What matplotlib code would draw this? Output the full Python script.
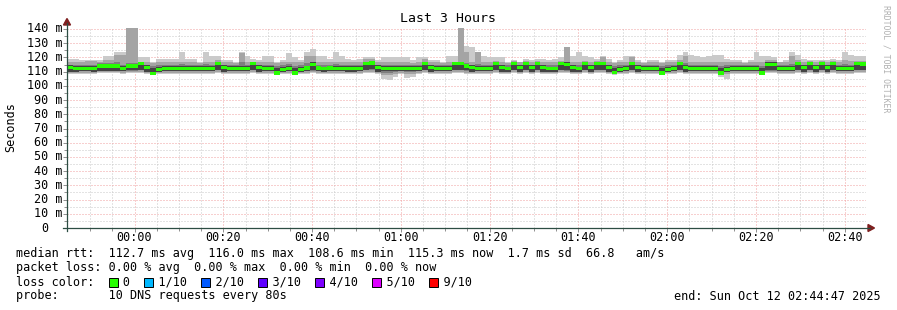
import numpy as np
import matplotlib
matplotlib.use("Agg")
import matplotlib.pyplot as plt
from matplotlib.lines import Line2D
from matplotlib.patches import Polygon, Rectangle

W, H, DPI = 897, 310, 100

# 3 hours ending 02:44:47, x in minutes from 00:00, one step = 80 s
t_start = -(15 + 13 / 60)
step_min = 80 / 60

# median rtt per step (ms)
median = [
    113.0, 112.3, 112.3, 112.3, 112.3, 114.0, 114.0, 114.0, 114.0, 112.3,
    114.0, 114.0, 115.5, 113.0, 108.6, 111.5, 112.3, 112.3, 112.3, 112.3,
    112.3, 112.3, 112.3, 112.3, 112.3, 115.5, 113.0, 112.3, 112.3, 112.3,
    112.3, 115.5, 113.0, 112.3, 112.3, 109.0, 111.4, 112.3, 109.0, 111.5,
    112.5, 115.0, 112.5, 112.0, 112.5, 112.3, 112.3, 112.3, 112.3, 112.3,
    115.5, 116.0, 113.0, 112.3, 112.3, 112.3, 112.3, 112.3, 112.3, 112.3,
    115.5, 113.0, 112.3, 112.3, 112.3, 115.5, 115.5, 114.0, 113.0, 112.3,
    112.3, 112.3, 115.5, 113.0, 112.0, 115.5, 113.0, 115.5, 113.0, 115.5,
    113.0, 112.0, 112.0, 115.5, 115.0, 113.0, 112.0, 115.5, 113.0, 115.5,
    115.5, 113.0, 109.2, 111.5, 112.3, 115.5, 113.0, 112.3, 112.3, 112.3,
    109.0, 111.5, 112.3, 115.5, 113.0, 112.3, 112.3, 112.3, 112.3, 112.3,
    109.0, 111.5, 112.3, 112.3, 112.3, 112.3, 112.3, 109.0, 115.0, 115.0,
    112.3, 112.3, 112.3, 115.5, 113.0, 115.5, 113.0, 115.5, 113.0, 115.5,
    112.3, 112.3, 112.3, 115.5, 115.3,
]

# sorted pings: lowest / highest (lightest smoke)
ping_min = [
    108.5, 108.3, 108.5, 108.5, 108.3, 109.0, 109.0, 108.8, 108.8, 108.5,
    108.8, 109.0, 109.0, 108.5, 107.5, 108.3, 108.5, 108.5, 108.5, 108.5,
    108.5, 108.5, 108.5, 108.5, 108.5, 109.0, 108.5, 108.5, 108.5, 108.5,
    108.5, 109.0, 108.5, 108.5, 108.5, 107.6, 108.3, 108.5, 107.6, 108.0,
    108.5, 109.0, 108.5, 108.5, 108.5, 108.5, 108.5, 108.5, 108.5, 108.5,
    109.0, 109.0, 108.0, 104.5, 104.0, 106.5, 108.5, 105.5, 106.0, 108.5,
    109.0, 108.5, 108.5, 108.5, 108.5, 109.0, 109.0, 108.5, 108.5, 108.5,
    108.5, 108.5, 109.0, 108.5, 108.0, 109.0, 108.5, 109.0, 108.5, 109.0,
    108.5, 108.5, 108.5, 109.0, 109.0, 108.5, 108.5, 109.0, 108.5, 109.0,
    109.0, 108.5, 107.8, 108.3, 108.5, 109.0, 108.5, 108.5, 108.5, 108.5,
    107.6, 108.3, 108.5, 109.0, 108.5, 108.5, 108.5, 108.5, 108.5, 108.5,
    106.5, 105.0, 108.5, 108.5, 108.5, 108.5, 108.5, 107.6, 109.0, 109.0,
    108.5, 108.5, 108.5, 109.0, 108.5, 109.0, 108.5, 109.0, 108.5, 109.0,
    108.5, 108.5, 108.5, 109.0, 109.0,
]
ping_max = [
    119, 119, 118.5, 118.5, 118.5, 118.5, 121, 121, 124, 124,
    140.7, 140.7, 120, 120, 117, 119, 119, 119, 119, 124,
    119, 119, 117, 124, 121, 121, 118, 118, 117, 124,
    121, 119, 118, 121, 121, 117, 118, 123, 120, 118,
    124, 126, 121, 121, 119, 124, 121, 119, 118, 119,
    120, 120, 118, 120, 120, 120, 120, 120, 118, 120,
    120, 118, 118, 117, 121, 121, 140.7, 128, 127, 124,
    121, 120, 120, 120, 117, 118, 117, 119, 118, 119,
    119, 118, 119, 120, 127, 121, 124, 121, 120, 119,
    121, 119, 117, 118, 121, 121, 118, 117, 118, 118,
    117, 118, 118, 122, 124, 122, 121, 120, 121, 122,
    122, 119, 118, 118, 117, 118, 124, 121, 121, 120,
    117, 118, 124, 122, 119, 118, 118, 118, 118, 119,
    118, 124, 122, 121, 121,
]
# 2nd lowest / 2nd highest
ping_2 = [
    109.3, 109.0, 109.3, 109.3, 109.0, 109.5, 109.5, 109.5, 109.5, 109.3,
    109.5, 109.5, 109.8, 109.3, 108.0, 109.0, 109.3, 109.3, 109.3, 109.3,
    109.3, 109.3, 109.3, 109.3, 109.3, 109.8, 109.3, 109.3, 109.3, 109.3,
    109.3, 109.8, 109.3, 109.3, 109.3, 108.2, 109.0, 109.3, 108.2, 108.8,
    109.3, 109.8, 109.3, 109.3, 109.3, 109.3, 109.3, 109.3, 109.3, 109.3,
    109.8, 109.8, 109.0, 107.5, 107.5, 108.5, 109.3, 108.0, 108.5, 109.3,
    109.8, 109.3, 109.3, 109.3, 109.3, 109.8, 109.8, 109.3, 109.3, 109.3,
    109.3, 109.3, 109.8, 109.3, 109.0, 109.8, 109.3, 109.8, 109.3, 109.8,
    109.3, 109.3, 109.3, 109.8, 109.8, 109.3, 109.3, 109.8, 109.3, 109.8,
    109.8, 109.3, 108.2, 109.0, 109.3, 109.8, 109.3, 109.3, 109.3, 109.3,
    108.2, 109.0, 109.3, 109.8, 109.3, 109.3, 109.3, 109.3, 109.3, 109.3,
    108.0, 108.0, 109.3, 109.3, 109.3, 109.3, 109.3, 108.2, 109.8, 109.8,
    109.3, 109.3, 109.3, 109.8, 109.3, 109.8, 109.3, 109.8, 109.3, 109.8,
    109.3, 109.3, 109.3, 109.8, 109.8,
]
ping_9 = [
    117, 117, 117, 117.5, 117.5, 117, 118, 118, 122, 122,
    140.7, 140.7, 117, 117, 116, 116.5, 116.5, 117, 117, 117,
    117, 116.5, 116, 117, 117, 118, 116.5, 116.5, 116, 123,
    117, 117, 116.5, 117, 117, 116, 116.5, 117, 116.5, 116.5,
    121, 121, 117, 117, 116.5, 117, 117, 116.5, 116.5, 116.5,
    119, 119, 116.5, 116.5, 117, 117, 116.5, 116.5, 116, 117,
    119, 116.5, 116.5, 116, 117, 117, 140.7, 124, 117, 124,
    117, 117, 117.5, 117, 116, 117.5, 116.5, 117.5, 116.5, 117.5,
    117, 116.5, 116.5, 117.5, 127, 117, 117, 117.5, 117, 117.5,
    120, 117, 116, 116.5, 117, 120, 116.5, 116, 116.5, 116.5,
    116, 116.5, 116.5, 118, 121, 117, 117, 117, 117, 117,
    117, 116.5, 116.5, 116.5, 116, 116.5, 117, 117, 118, 118,
    116.5, 116.5, 121, 118, 117, 117.5, 117, 117.5, 117, 117.5,
    117, 118, 117.5, 117.5, 117.5,
]
# 3rd lowest / 3rd highest
ping_3 = [
    110.0, 110.0, 110.2, 110.2, 110.0, 110.5, 110.5, 110.5, 110.5, 110.2,
    110.5, 110.5, 111.0, 110.2, 108.8, 109.8, 110.2, 110.2, 110.2, 110.2,
    110.2, 110.2, 110.2, 110.2, 110.2, 111.0, 110.2, 110.2, 110.2, 110.2,
    110.2, 111.0, 110.2, 110.2, 110.2, 108.8, 109.8, 110.2, 108.8, 109.8,
    110.2, 110.8, 110.2, 110.2, 110.2, 110.2, 110.2, 110.2, 110.2, 110.2,
    111.0, 111.0, 110.2, 109.0, 109.0, 109.5, 110.2, 109.5, 109.5, 110.2,
    111.0, 110.2, 110.2, 110.2, 110.2, 111.0, 111.0, 110.5, 110.2, 110.2,
    110.2, 110.2, 111.0, 110.2, 110.0, 111.0, 110.2, 111.0, 110.2, 111.0,
    110.2, 110.0, 110.0, 111.0, 110.8, 110.2, 110.0, 111.0, 110.2, 111.0,
    111.0, 110.2, 108.8, 109.8, 110.2, 111.0, 110.2, 110.2, 110.2, 110.2,
    108.8, 109.8, 110.2, 111.0, 110.2, 110.2, 110.2, 110.2, 110.2, 110.2,
    108.8, 109.5, 110.2, 110.2, 110.2, 110.2, 110.2, 108.8, 110.8, 110.8,
    110.2, 110.2, 110.2, 111.0, 110.2, 111.0, 110.2, 111.0, 110.2, 111.0,
    110.2, 110.2, 110.2, 111.0, 111.0,
]
ping_8 = [
    115.0, 115.0, 115.0, 115.0, 115.0, 116.0, 116.0, 116.0, 116.5, 115.0,
    116.0, 116.0, 117.0, 115.0, 114.0, 114.5, 115.0, 115.0, 115.0, 115.5,
    115.0, 115.0, 114.5, 115.5, 115.0, 117.0, 115.0, 115.0, 115.0, 116.5,
    115.0, 117.0, 115.0, 115.0, 115.0, 114.0, 114.5, 115.5, 114.0, 114.5,
    116.0, 116.5, 115.0, 115.0, 115.0, 115.5, 115.0, 115.0, 115.0, 115.0,
    117.0, 117.0, 115.0, 115.0, 115.0, 115.0, 115.0, 115.0, 114.5, 115.0,
    117.0, 115.0, 115.0, 115.0, 115.0, 117.0, 117.0, 116.0, 115.0, 115.5,
    115.0, 115.0, 117.0, 115.0, 114.5, 117.0, 115.0, 117.0, 115.0, 117.0,
    115.0, 114.5, 114.5, 117.0, 117.0, 115.0, 115.0, 117.0, 115.0, 117.0,
    117.0, 115.0, 114.0, 114.5, 115.0, 117.0, 115.0, 115.0, 115.0, 115.0,
    114.0, 114.5, 115.0, 117.0, 116.0, 115.0, 115.0, 115.0, 115.0, 115.0,
    114.0, 114.5, 115.0, 115.0, 115.0, 115.0, 115.0, 114.0, 116.5, 116.5,
    115.0, 115.0, 115.5, 117.0, 115.0, 117.0, 115.0, 117.0, 115.0, 117.0,
    115.0, 115.5, 115.0, 117.0, 117.0,
]
# 4th lowest / 4th highest (darkest smoke)
ping_4 = [
    109.5, 109.5, 110.3, 110.3, 109.8, 110.8, 110.8, 110.8, 110.8, 110.3,
    111.3, 111.3, 111.3, 109.8, 108.3, 109.8, 110.3, 110.3, 110.3, 110.3,
    110.3, 110.3, 110.3, 110.3, 110.3, 111.3, 109.8, 110.3, 110.3, 110.3,
    110.3, 111.3, 109.8, 110.3, 110.3, 108.5, 109.8, 110.3, 108.5, 109.8,
    110.3, 111.3, 110.3, 110.1, 110.3, 110.3, 110.3, 109.8, 109.8, 110.3,
    111.3, 111.8, 109.8, 110.3, 110.3, 110.3, 110.3, 110.3, 110.3, 110.3,
    111.3, 109.8, 110.3, 110.3, 110.3, 111.3, 111.3, 111.3, 109.8, 110.3,
    110.3, 110.3, 111.3, 109.8, 110.1, 111.3, 109.8, 111.3, 109.8, 111.3,
    109.8, 110.1, 110.1, 111.3, 111.3, 109.8, 110.1, 111.3, 109.8, 111.3,
    111.3, 109.8, 108.5, 109.8, 110.3, 111.3, 109.8, 110.3, 110.3, 110.3,
    108.5, 109.8, 110.3, 111.3, 109.8, 110.3, 110.3, 110.3, 110.3, 110.3,
    108.5, 109.8, 110.3, 110.3, 110.3, 110.3, 110.3, 108.5, 111.3, 111.3,
    110.3, 110.3, 110.3, 111.3, 109.8, 111.3, 109.8, 111.3, 109.8, 111.3,
    110.3, 110.3, 110.3, 111.3, 111.3,
]
ping_7 = [
    114.5, 114.0, 114.0, 114.0, 114.0, 115.5, 115.5, 115.5, 115.5, 114.0,
    115.5, 115.5, 116.5, 114.5, 112.5, 113.0, 114.0, 114.0, 114.0, 114.0,
    114.0, 114.0, 114.0, 114.0, 114.0, 116.5, 114.5, 114.0, 114.0, 114.0,
    114.0, 116.5, 114.5, 114.0, 114.0, 112.5, 113.0, 114.0, 112.5, 113.0,
    114.0, 116.5, 114.0, 113.5, 114.0, 114.0, 114.0, 114.0, 114.0, 114.0,
    116.5, 117.0, 114.5, 114.0, 114.0, 114.0, 114.0, 114.0, 114.0, 114.0,
    116.5, 114.5, 114.0, 114.0, 114.0, 116.5, 116.5, 115.5, 114.5, 114.0,
    114.0, 114.0, 116.5, 114.5, 113.5, 116.5, 114.5, 116.5, 114.5, 116.5,
    114.5, 113.5, 113.5, 116.5, 116.5, 114.5, 113.5, 116.5, 114.5, 116.5,
    116.5, 114.5, 112.5, 113.0, 114.0, 116.5, 114.5, 114.0, 114.0, 114.0,
    112.5, 113.0, 114.0, 116.5, 114.5, 114.0, 114.0, 114.0, 114.0, 114.0,
    112.5, 113.0, 114.0, 114.0, 114.0, 114.0, 114.0, 112.5, 116.5, 116.5,
    114.0, 114.0, 114.0, 116.5, 114.5, 116.5, 114.5, 116.5, 114.5, 116.5,
    114.0, 114.0, 114.0, 116.5, 116.5,
]

xtick_minutes = [0, 20, 40, 60, 80, 100, 120, 140, 160]
xtick_labels = ["00:00", "00:20", "00:40", "01:00", "01:20",
                "01:40", "02:00", "02:20", "02:40"]
ytick_values = [0, 10, 20, 30, 40, 50, 60, 70, 80, 90, 100, 110, 120, 130, 140]

loss_labels = ["0", "1/10", "2/10", "3/10", "4/10", "5/10", "9/10"]
loss_colors = ["#26ff00", "#00b8ff", "#0059ff", "#5e00ff",
               "#7e00ff", "#dd00ff", "#ff0000"]

stats_line = "median rtt:  112.7 ms avg  116.0 ms max  108.6 ms min  115.3 ms now  1.7 ms sd  66.8   am/s"
loss_line = "packet loss: 0.00 % avg  0.00 % max  0.00 % min  0.00 % now"
probe_line = "probe:       10 DNS requests every 80s"
end_text = "end: Sun Oct 12 02:44:47 2025"

MONO = "DejaVu Sans Mono"
FS = 8.5
CHAR_W = 7.107  # advance of DejaVu Sans Mono at 8.5pt / 100 dpi
AXIS_C = "#2c4d43"
ARROW_C = "#7f1f1f"


def fx(x):
    return x / W


def fy(y):
    return 1 - y / H


def stepped(vals):
    v = np.asarray(vals, dtype=float)
    return np.append(v, v[-1])


fig = plt.figure(figsize=(W / DPI, H / DPI), dpi=DPI)
fig.patch.set_facecolor("white")

PL, PR, PT, PB = 67, 866, 28, 228
ax = fig.add_axes([fx(PL), fy(PB), (PR - PL) / W, (PB - PT) / H])
y_top = 140 * (PB - PT) / 199
ax.set_xlim(t_start, t_start + step_min * len(median))
ax.set_ylim(0, y_top)

edges = t_start + step_min * np.arange(len(median) + 1)

# smoke, outer pings first, darker towards the middle
bands = [(ping_min, ping_max, "#cacaca"),
         (ping_2, ping_9, "#a4a4a4"),
         (ping_3, ping_8, "#7e7e7e"),
         (ping_4, ping_7, "#444444")]
for lo, hi, col in bands:
    ax.fill_between(edges, stepped(lo), stepped(hi), step="post",
                    color=col, linewidth=0, antialiased=False, zorder=2)

# median drawn as a thin band in the loss colour
med = np.asarray(median)
ax.fill_between(edges, stepped(med - 1.15), stepped(med + 1.15), step="post",
                color=loss_colors[0], linewidth=0, antialiased=False, zorder=3)

# grid
ax.set_xticks(xtick_minutes)
ax.set_xticks(np.arange(-10, 165, 5), minor=True)
ax.set_yticks(ytick_values)
ax.set_yticks(np.arange(5, 141, 10), minor=True)
ax.grid(which="major", color="#f0a0a0", linestyle=(0, (1, 2)), linewidth=0.72)
ax.grid(which="minor", color="#c8c8c8", linestyle=(0, (1, 2)), linewidth=0.72)
ax.set_axisbelow(True)
ax.tick_params(which="both", labelbottom=False, labelleft=False,
               color="#8f8f8f", width=0.7, direction="out")
ax.tick_params(which="major", length=3)
ax.tick_params(which="minor", length=2)
for s in ax.spines.values():
    s.set_visible(False)

# axes with arrows
fig.add_artist(Line2D([fx(PL), fx(PL)], [fy(PB + 3), fy(23)],
                      color=AXIS_C, linewidth=0.9, transform=fig.transFigure))
fig.add_artist(Line2D([fx(PL - 4), fx(870)], [fy(PB), fy(PB)],
                      color=AXIS_C, linewidth=0.9, transform=fig.transFigure))
fig.add_artist(Polygon([(fx(PL - 3.5), fy(25)), (fx(PL + 3.5), fy(25)), (fx(PL), fy(18.5))],
                       closed=True, color=ARROW_C, transform=fig.transFigure))
fig.add_artist(Polygon([(fx(868), fy(PB - 3.5)), (fx(868), fy(PB + 3.5)), (fx(874.5), fy(PB))],
                       closed=True, color=ARROW_C, transform=fig.transFigure))


def ypix(v):
    return PB - v * (PB - PT) / y_top


def xpix(m):
    return PL + (m - t_start) * (PR - PL) / (step_min * len(median))


# tick labels
for v in ytick_values:
    if v == 0:
        fig.text(fx(45.3), fy(ypix(v)), "0", ha="center", va="center",
                 family=MONO, fontsize=FS)
    else:
        fig.text(fx(63), fy(ypix(v)), f"{v} m", ha="right", va="center",
                 family=MONO, fontsize=FS)
for m, lab in zip(xtick_minutes, xtick_labels):
    fig.text(fx(xpix(m)), fy(237.5), lab, ha="center", va="center",
             family=MONO, fontsize=FS)

fig.text(fx(448), fy(19), "Last 3 Hours", ha="center", va="center",
         family=MONO, fontsize=9.5)
fig.text(fx(11), fy(127), "Seconds", ha="center", va="center",
         rotation=90, family=MONO, fontsize=FS)
fig.text(fx(886), fy(59), "RRDTOOL / TOBI OETIKER", ha="center", va="center",
         rotation=270, family=MONO, fontsize=5.9, color="#b0b0b0")

# legend block
LX = 16
fig.text(fx(LX), fy(254), stats_line, ha="left", va="center", family=MONO, fontsize=FS)
fig.text(fx(LX), fy(268), loss_line, ha="left", va="center", family=MONO, fontsize=FS)

loss_text = "loss color:  "
box_cols = []
for lab in loss_labels:
    box_cols.append(len(loss_text))
    loss_text += "  " + lab + "  "
fig.text(fx(LX), fy(282), loss_text, ha="left", va="center", family=MONO, fontsize=FS)
for col, c in zip(box_cols, loss_colors):
    x0 = LX + col * CHAR_W + 0.5
    fig.add_artist(Rectangle((fx(x0), fy(286.5)), 9 / W, 9 / H, facecolor=c,
                             edgecolor="black", linewidth=0.7, transform=fig.transFigure))

fig.text(fx(LX), fy(296), probe_line, ha="left", va="center", family=MONO, fontsize=FS)
fig.text(fx(881), fy(296), end_text, ha="right", va="center", family=MONO, fontsize=FS)

fig.savefig("out.png", dpi=DPI, facecolor="white")
